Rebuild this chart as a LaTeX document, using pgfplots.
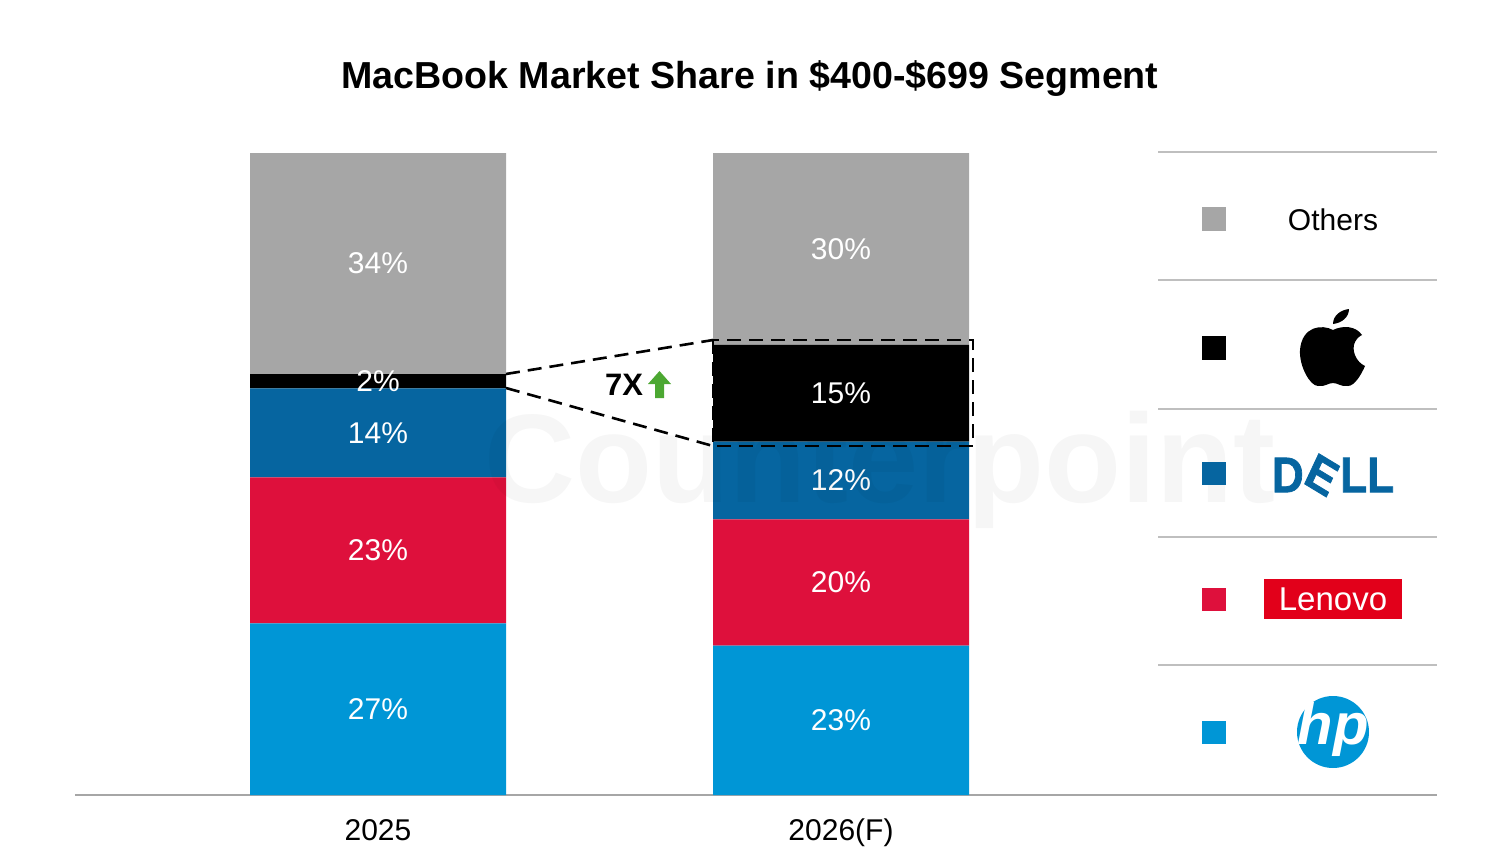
\documentclass[border=0pt]{standalone}
\usepackage{pgfplots}
\pgfplotsset{compat=1.18}
\usepackage{fontspec}
\setmainfont{Liberation Sans}
\newfontfamily\dellfont[FakeBold=1.5]{Liberation Sans Bold}
\definecolor{cOthers}{HTML}{A6A6A6}
\definecolor{cApple}{HTML}{000000}
\definecolor{cDell}{HTML}{0665A0}
\definecolor{cLenovo}{HTML}{DE103C}
\definecolor{cHP}{HTML}{0096D6}
\definecolor{cLogoRed}{HTML}{E2001A}
\definecolor{cGreen}{HTML}{4CA832}
\definecolor{cAxis}{HTML}{A6A6A6}
\definecolor{cSep}{HTML}{BFBFBF}
\begin{document}
\begin{tikzpicture}
\path[use as bounding box] (-37.5pt,-34.5pt) rectangle (715.5pt,397.5pt);
\pgfplotsset{base/.style={scale only axis, width=681pt, height=321pt,
  xmin=-0.65443, xmax=2.28726, ymin=0, ymax=100, clip=false}}
\begin{axis}[base, ybar stacked, bar width=128pt,
  axis x line=bottom, axis y line=none,
  axis line style={-, draw=cAxis, line width=1pt},
  xtick={0,1}, xticklabels={2025,2026(F)}, major tick length=0pt,
  xticklabel style={font=\fontsize{15}{18}\selectfont, text=black, yshift=-8.5pt},
  ytick=\empty]
\addplot[fill=cHP, draw=none] coordinates {(0,26.74) (1,23.26)};
\addplot[fill=cLenovo, draw=none] coordinates {(0,22.74) (1,19.69)};
\addplot[fill=cDell, draw=none] coordinates {(0,13.86) (1,12.09)};
\addplot[fill=cApple, draw=none] coordinates {(0,2.23) (1,15.06)};
\addplot[fill=cOthers, draw=none] coordinates {(0,34.43) (1,29.90)};
\end{axis}
\begin{axis}[base, hide axis]
\addplot[only marks, mark=none, nodes near coords, point meta=explicit symbolic,
  every node near coord/.style={anchor=center, text=white, font=\fontsize{15}{18}\selectfont}]
  coordinates {(0,13.37)[27\%] (0,38.11)[23\%] (0,56.41)[14\%] (0,64.45)[2\%] (0,82.8)[34\%]
               (1,11.63)[23\%] (1,33.1)[20\%] (1,49.0)[12\%] (1,62.6)[15\%] (1,85.0)[30\%]};
\end{axis}
\begin{scope}[x=0.5pt,y=-0.5pt,shift={(-37.5pt,397.5pt)}]
% watermark
\node[font=\bfseries\fontsize{63}{63}\selectfont, text=black, opacity=0.035] at (880,470) {Counterpoint};
% title
\node[font=\bfseries\fontsize{18.8}{22}\selectfont] at (750,79) {MacBook Market Share in \$400-\$699 Segment};
% dashed callout
\draw[dash pattern=on 7pt off 4pt, line width=1.3pt] (506,374) -- (713,340) (506,388) -- (713,446);
\draw[dash pattern=on 7pt off 4pt, line width=1.3pt] (713,340) rectangle (973,446);
\node[font=\bfseries\fontsize{15.5}{18}\selectfont] at (624,385) {7X};
\fill[cGreen] (659.5,371) -- (671,384) -- (664,384) -- (664,398) -- (655,398) -- (655,384) -- (648,384) -- cycle;
% legend
\foreach \yy in {152,280,409,537,665} \draw[cSep, line width=0.8pt] (1158,\yy) -- (1437,\yy);
\fill[cOthers] (1202,207) rectangle (1226,231);
\fill[cApple] (1202,336) rectangle (1226,360);
\fill[cDell] (1202,462) rectangle (1226,485);
\fill[cLenovo] (1202,588) rectangle (1226,611);
\fill[cHP] (1202,721) rectangle (1226,744);
\node[font=\fontsize{15}{18}\selectfont] at (1333,220) {Others};
% apple logo
\fill[black] (1333,330) .. controls (1322,324) and (1302,326) .. (1300,350)
  .. controls (1299,366) and (1310,386) .. (1318,386)
  .. controls (1325,387) and (1328,383) .. (1333,383)
  .. controls (1338,383) and (1341,387) .. (1348,386)
  .. controls (1355,386) and (1362,373) .. (1365,366)
  .. controls (1356,362) and (1351,350) .. (1355,342)
  .. controls (1357,338) and (1360,336) .. (1362,335)
  .. controls (1356,326) and (1343,325) .. (1333,330) -- cycle;
\fill[black] (1333,324) .. controls (1333,316) and (1340,310) .. (1349,309)
  .. controls (1349,317) and (1342,323) .. (1333,324) -- cycle;
% dell
\node[text=cDell, font=\dellfont\fontsize{25}{25}\selectfont, inner sep=0pt] at (1333,475) {\scalebox{0.88}[1]{D\kern-1pt\rotatebox[origin=c]{-28}{E}\kern-1ptLL}};
% lenovo
\node[fill=cLogoRed, text=white, minimum width=69pt, minimum height=20pt, inner sep=0pt,
  font=\fontsize{16.5}{16.5}\selectfont] at (1333,599) {Lenovo};
% hp
\fill[cHP] (1333,732) circle[radius=18pt];
\node[text=white, font=\bfseries\itshape\fontsize{29}{29}\selectfont] at (1333,729) {hp};
\end{scope}
\end{tikzpicture}
\end{document}
